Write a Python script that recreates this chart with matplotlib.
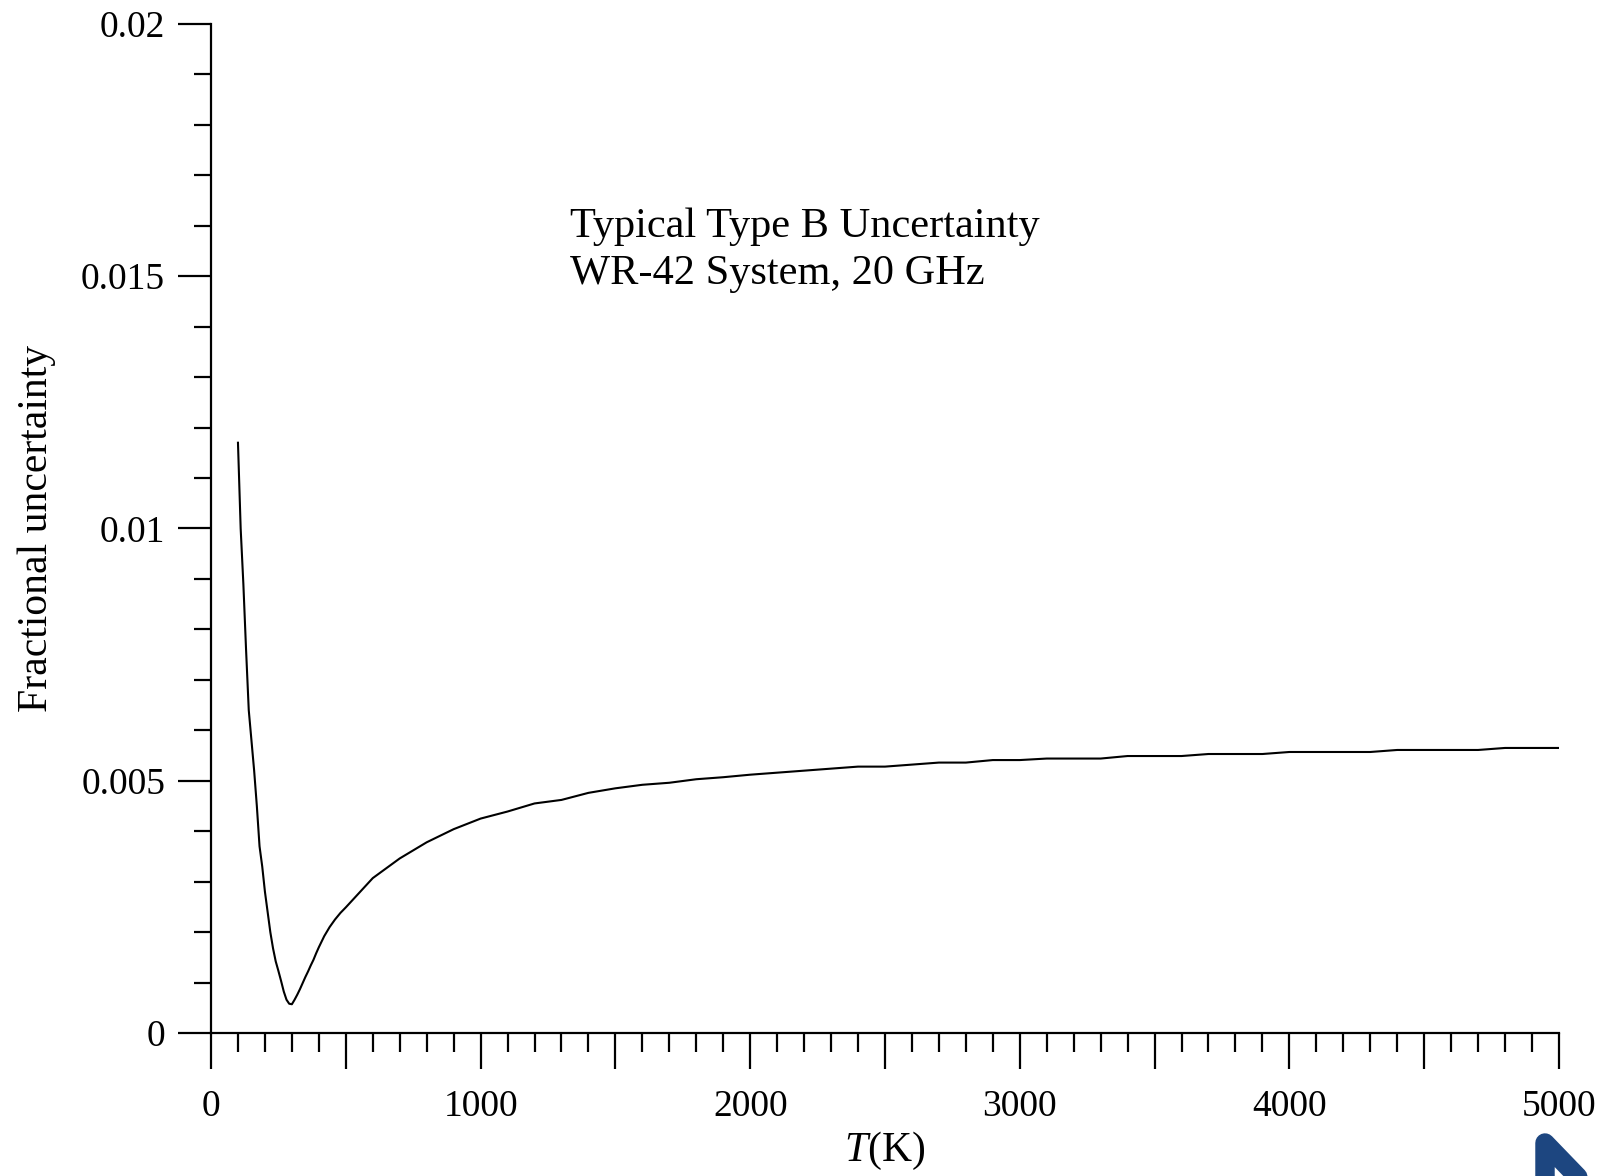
import matplotlib
matplotlib.use("Agg")
import matplotlib.pyplot as plt
from matplotlib.ticker import MultipleLocator, FixedLocator, FuncFormatter
from matplotlib.lines import Line2D

# Temperature (K) and fractional Type B uncertainty
temperature = [100, 110, 120, 130, 140, 150, 160, 170, 180, 190, 200, 210, 220,
               230, 240, 250, 260, 270, 280, 290, 300, 310, 320, 330, 340, 350,
               360, 370, 380, 390, 400, 420, 440, 460, 480, 500, 600, 700, 800,
               900, 1000, 1100, 1200, 1300, 1400, 1500, 1600, 1700, 1800, 1900,
               2000, 2100, 2200, 2300, 2400, 2500, 2600, 2700, 2800, 2900, 3000,
               3100, 3200, 3300, 3400, 3500, 3600, 3700, 3800, 3900, 4000, 4100,
               4200, 4300, 4400, 4500, 4600, 4700, 4800, 4900, 5000]
uncertainty = [0.0117, 0.0100, 0.0089, 0.0076, 0.0064, 0.0058, 0.0052, 0.0045,
               0.0037, 0.0033, 0.0028, 0.0024, 0.0020, 0.00168, 0.00142, 0.00123,
               0.00103, 0.00082, 0.00066, 0.00058, 0.00057, 0.00066, 0.00076,
               0.00087, 0.00099, 0.00111, 0.00122, 0.00134, 0.00145, 0.00158,
               0.00170, 0.00192, 0.00210, 0.00225, 0.00238, 0.00249, 0.00307,
               0.00346, 0.00378, 0.00404, 0.00425, 0.00439, 0.00455, 0.00462,
               0.00476, 0.00485, 0.00492, 0.00496, 0.00503, 0.00507, 0.00512,
               0.00516, 0.00520, 0.00524, 0.00528, 0.00528, 0.00532, 0.00536,
               0.00536, 0.00541, 0.00541, 0.00544, 0.00544, 0.00544, 0.00549,
               0.00549, 0.00549, 0.00553, 0.00553, 0.00553, 0.00557, 0.00557,
               0.00557, 0.00557, 0.00561, 0.00561, 0.00561, 0.00561, 0.00565,
               0.00565, 0.00565]

x_long_ticks = list(range(0, 5001, 500))
y_ticks = [0, 0.005, 0.01, 0.015, 0.02]
y_tick_labels = ["0", "0.005", "0.01", "0.015", "0.02"]
annotation_lines = ["Typical Type B Uncertainty", "WR-42 System, 20 GHz"]

plt.rcParams["font.family"] = ["Liberation Serif", "DejaVu Serif"]
plt.rcParams["mathtext.fontset"] = "custom"
plt.rcParams["mathtext.rm"] = "Liberation Serif"
plt.rcParams["mathtext.it"] = "Liberation Serif:italic"

fig = plt.figure(figsize=(16.12, 11.76), dpi=100)
ax = fig.add_axes([0.1309, 0.1216, 0.8362, 0.858])

ax.plot(temperature, uncertainty, color="black", lw=1.5)

ax.set_xlim(0, 5000)
ax.set_ylim(0, 0.02)

for side in ("top", "right"):
    ax.spines[side].set_visible(False)
for side in ("left", "bottom"):
    ax.spines[side].set_linewidth(1.6)

# long ticks every 500 K (labelled every 1000 K), short ticks every 100 K
ax.xaxis.set_major_locator(FixedLocator(x_long_ticks))
ax.xaxis.set_major_formatter(
    FuncFormatter(lambda v, p: f"{int(v)}" if int(v) % 1000 == 0 else ""))
ax.xaxis.set_minor_locator(MultipleLocator(100))
ax.set_yticks(y_ticks)
ax.set_yticklabels(y_tick_labels)
ax.yaxis.set_minor_locator(MultipleLocator(0.001))

ax.tick_params(axis="x", which="major", direction="out", length=26, width=1.6,
               labelsize=27, pad=15)
ax.tick_params(axis="x", which="minor", direction="out", length=14, width=1.6)
ax.tick_params(axis="y", which="major", direction="out", length=24, width=1.6,
               labelsize=27, pad=9)
ax.tick_params(axis="y", which="minor", direction="out", length=12, width=1.6)

ax.set_ylabel("Fractional uncertainty", fontsize=30, labelpad=18)
ax.set_xlabel(r"$T$(K)", fontsize=30, labelpad=4)

ax.text(0.2665, 0.818, "\n".join(annotation_lines), transform=ax.transAxes,
        fontsize=30.5, ha="left", va="top", linespacing=1.27)

# corner logo mark
logo = Line2D([1545 / 1612, 1545 / 1612, 1600 / 1612],
              [1 - 1190 / 1176, 1 - 1143 / 1176, 1 - 1200 / 1176],
              transform=fig.transFigure, color="#1d4680", lw=14,
              solid_capstyle="round", solid_joinstyle="round")
fig.add_artist(logo)

fig.savefig("out.png", dpi=100)
